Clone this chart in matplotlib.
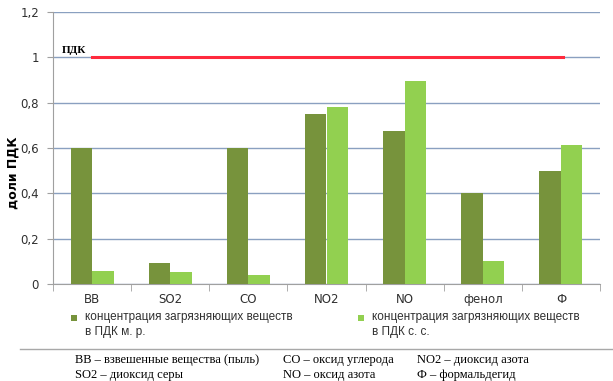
import matplotlib

matplotlib.use("Agg")
import matplotlib.pyplot as plt
import numpy as np
from matplotlib.patches import Rectangle

categories = ["ВВ", "SO2", "CO", "NO2", "NO", "фенол", "Ф"]
pdk_mr = [0.60, 0.093, 0.60, 0.75, 0.674, 0.40, 0.50]
pdk_ss = [0.057, 0.055, 0.04, 0.78, 0.895, 0.10, 0.612]
pdk_level = 1.0
y_ticks = [0, 0.2, 0.4, 0.6, 0.8, 1.0, 1.2]
y_tick_labels = ["0", "0,2", "0,4", "0,6", "0,8", "1", "1,2"]
legend_labels = [
    "концентрация загрязняющих веществ\nв ПДК м. р.",
    "концентрация загрязняющих веществ\nв ПДК с. с.",
]
notes = [
    ["ВВ – взвешенные вещества (пыль)", "SO2 – диоксид серы"],
    ["CO – оксид углерода", "NO – оксид азота"],
    ["NO2 – диоксид азота", "Ф – формальдегид"],
]

dark_green = "#77933c"
light_green = "#92d050"
grid_color = "#8aa0c0"
W, H = 613, 381

fig = plt.figure(figsize=(6.13, 3.81), dpi=100)
ax = fig.add_axes([53 / W, 1 - 284 / H, 547 / W, 272 / H])

x = np.arange(len(categories))
w = 0.275
ax.bar(x - w / 2, pdk_mr, width=w, color=dark_green, zorder=3)
ax.bar(x + w / 2, pdk_ss, width=w, color=light_green, zorder=3)

# ПДК reference line
ax.plot([x[0], x[-1] + 0.03], [pdk_level, pdk_level], color="#ff2a3d", linewidth=2.2, zorder=4)
ax.text(x[0] - 0.39, pdk_level + 0.01, "ПДК", fontsize=8, fontweight="bold",
        family="Liberation Serif", va="bottom", ha="left", zorder=5)

ax.set_xlim(-0.5, len(categories) - 0.5)
ax.set_ylim(0, 1.2)
ax.set_yticks(y_ticks)
ax.set_yticklabels(y_tick_labels, fontsize=8.5, color="#303030")
ax.set_xticks(x)
ax.set_xticklabels(categories, fontsize=8.5, color="#303030", va="baseline")
ax.tick_params(axis="x", length=0, pad=14)
ax.tick_params(axis="y", length=4, direction="out", color="#a0a0a0", pad=6)
ax.set_xticks(np.arange(-0.5, len(categories) + 0.5, 1), minor=True)
ax.tick_params(axis="x", which="minor", length=5, direction="out", color="#a0a0a0")

ax.yaxis.grid(True, color=grid_color, linewidth=1.0, zorder=0)
ax.set_axisbelow(True)
for side in ["top", "right"]:
    ax.spines[side].set_visible(False)
ax.spines["left"].set_color("#a0a0a0")
ax.spines["bottom"].set_color("#a0a0a0")
ax.set_ylabel("доли ПДК", fontsize=9, fontweight="bold")
ax.yaxis.set_label_coords(-0.062, 0.41)

# legend below the axes
for lx, color, label in [(71, dark_green, legend_labels[0]), (358, light_green, legend_labels[1])]:
    fig.add_artist(Rectangle((lx / W, 1 - 321 / H), 6 / W, 6 / H, transform=fig.transFigure,
                             facecolor=color, edgecolor="none"))
    fig.text((lx + 14) / W, 1 - 311 / H, label, fontsize=8.5, family="Liberation Sans",
             va="top", ha="left", color="#303030", linespacing=1.3)

# separator line and notes
fig.add_artist(plt.Line2D([20 / W, 1.0], [1 - 349 / H, 1 - 349 / H], transform=fig.transFigure,
                          color="#a8a8a8", linewidth=1.0))
col_x = [75, 283, 417]
for cx, col in zip(col_x, notes):
    for j, line in enumerate(col):
        fig.text(cx / W, 1 - (360 + 15 * j) / H, line, fontsize=9, family="Liberation Serif",
                 va="center", ha="left")

fig.savefig("out.png", dpi=100)
